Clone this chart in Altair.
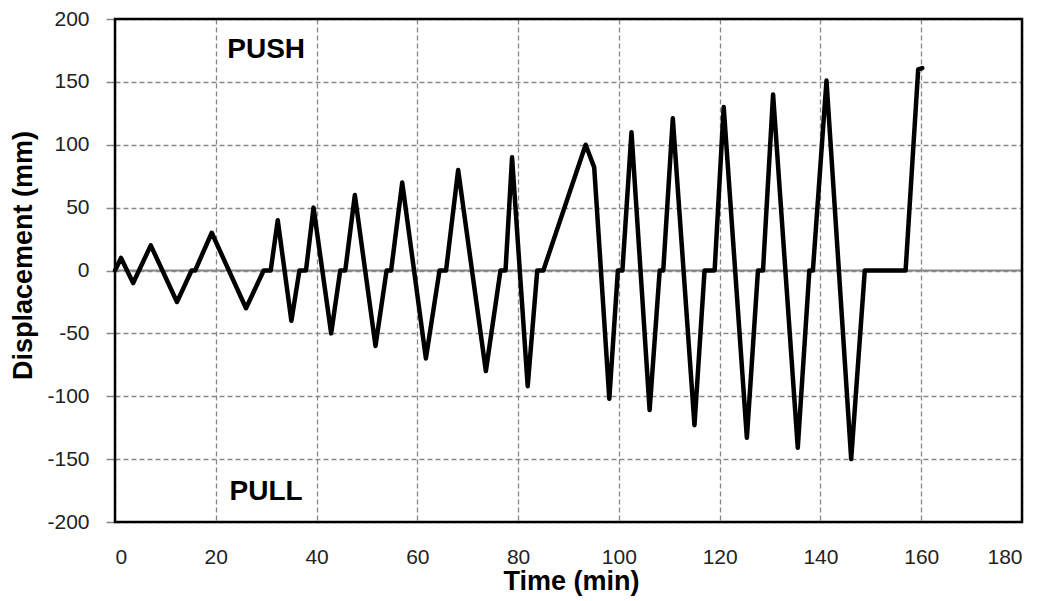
import altair as alt
import pandas as pd

# Loading protocol
time_min = [0, 1.2, 3.6, 7.1, 12.3, 15.2, 15.9, 19.2, 26.0, 29.5, 30.9,
            32.3, 35.0, 36.6, 37.9, 39.4, 42.9, 44.7, 45.7, 47.6, 51.7,
            53.9, 54.8, 57.0, 61.7, 64.4, 65.7, 68.1, 73.6, 76.5, 77.5,
            78.8, 81.9, 83.8, 85.0, 93.4, 95.1, 98.1, 99.8, 100.7, 102.5,
            106.1, 108.1, 108.8, 110.7, 115.0, 117.0, 119.0, 120.8, 125.4,
            127.6, 128.6, 130.6, 135.5, 137.8, 138.5, 141.2, 146.1, 148.8,
            156.9, 159.4, 160.2]
disp_mm = [0, 10, -10, 20, -25, 0, 0, 30, -30, 0, 0,
           40, -40, 0, 0, 50, -50, 0, 0, 60, -60,
           0, 0, 70, -70, 0, 0, 80, -80, 0, 0,
           90, -92, 0, 0, 100, 82, -102, 0, 0, 110,
           -111, 0, 0, 121, -123, 0, 0, 130, -133,
           0, 0, 140, -141, 0, 0, 151, -150, 0,
           0, 160, 161]

x_ticks = [0, 20, 40, 60, 80, 100, 120, 140, 160, 180]
y_ticks = [-200, -150, -100, -50, 0, 50, 100, 150, 200]

label_text = ["PUSH", "PULL"]
label_t = [30, 30]
label_d = [175, -176]

W, H = 907, 503
FONT = "Liberation Sans"

df = pd.DataFrame({"t": time_min, "d": disp_mm})
labels = pd.DataFrame({"text": label_text, "t": label_t, "d": label_d})
zero = pd.DataFrame({"d": [0]})

x_scale = alt.Scale(domain=[0, 180], nice=False, zero=False)
y_scale = alt.Scale(domain=[-200, 200], nice=False, zero=False)

x_enc = alt.X(
    "t:Q", scale=x_scale,
    axis=alt.Axis(
        values=x_ticks, title="Time (min)", grid=True,
        gridColor="#888888", gridDash=[5, 3], gridWidth=1.3,
        domain=False, ticks=False, labelPadding=24,
        labelExpr="'' + datum.value",
        labelFont=FONT, labelFontSize=21, labelColor="#222222",
        titleFont=FONT, titleFontSize=27, titleFontWeight="bold",
        titleColor="black", titleX=456, titleY=59,
        titleBaseline="middle", titleAlign="center",
    ),
)
y_enc = alt.Y(
    "d:Q", scale=y_scale,
    axis=alt.Axis(
        values=y_ticks, title="Displacement (mm)", grid=True,
        gridColor="#888888", gridDash=[5, 3], gridWidth=1.3,
        domain=False, ticks=True, tickSize=9, tickColor="#888888",
        tickWidth=1.5, labelPadding=17,
        labelExpr="'' + datum.value",
        labelFont=FONT, labelFontSize=21, labelColor="#222222",
        titleFont=FONT, titleFontSize=27, titleFontWeight="bold",
        titleColor="black", titleAngle=270, titleX=-92, titleY=236,
        titleBaseline="middle", titleAlign="center",
    ),
)

base_line = alt.Chart(df).mark_line(
    color="black", strokeWidth=4.5, strokeJoin="round", strokeCap="round"
).encode(x=x_enc, y=y_enc)

zero_rule = alt.Chart(zero).mark_rule(color="#888888", strokeWidth=2).encode(
    y=alt.Y("d:Q", scale=y_scale)
)

frame = alt.Chart(zero).mark_rect(
    fill=None, fillOpacity=0, stroke="black", strokeWidth=2.5
).encode(
    x=alt.value(0), x2=alt.value(W), y=alt.value(0), y2=alt.value(H)
)

text = alt.Chart(labels).mark_text(
    font=FONT, fontSize=28, fontWeight="bold", color="black",
    align="center", baseline="middle"
).encode(
    x=alt.X("t:Q", scale=x_scale),
    y=alt.Y("d:Q", scale=y_scale),
    text="text:N",
)

chart = alt.layer(zero_rule, base_line, text, frame).properties(
    width=W, height=H,
    autosize=alt.AutoSizeParams(type="none"),
    padding={"left": 107, "top": 11, "right": 17, "bottom": 76},
).configure_view(stroke=None).configure(background="white")

chart.save("out.html", embed_options={"renderer": "svg", "actions": False})
